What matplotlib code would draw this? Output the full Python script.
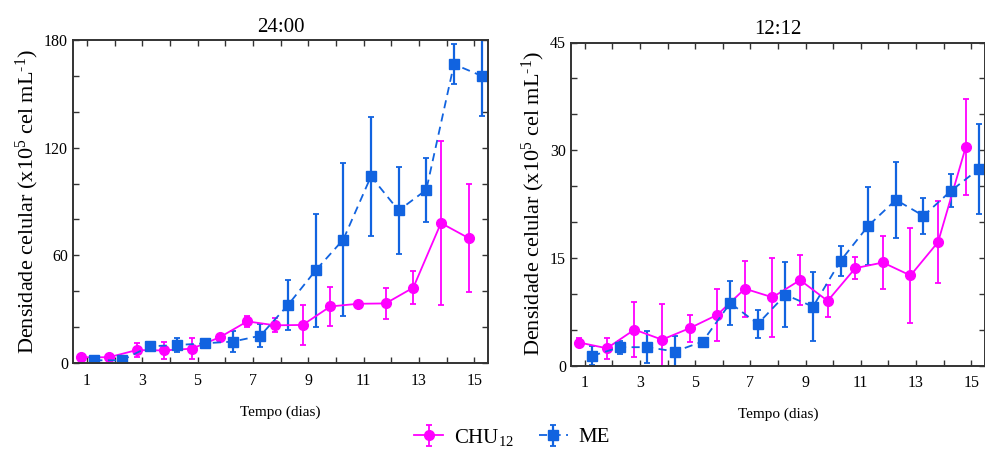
import numpy as np
import matplotlib
matplotlib.use("Agg")
import matplotlib.pyplot as plt
from matplotlib.ticker import MultipleLocator

plt.rcParams['font.family'] = ['Liberation Serif', 'DejaVu Serif']
plt.rcParams['mathtext.default'] = 'regular'

# Dias de cultivo
dias = np.arange(1, 16)

# 24:00
chu_24 = [3.2, 3.2, 7.2, 7.0, 8.0, 14.3, 23.2, 21.0, 21.2, 31.5, 33.0, 33.2, 42.0, 78.0, 69.6]
chu_24_err = [0.8, 0.8, 4.0, 4.5, 6.0, 0.8, 3.0, 4.0, 11.0, 10.7, 0.8, 8.6, 9.0, 45.7, 30.0]
me_24 = [1.5, 1.5, 9.3, 10.0, 11.0, 11.9, 15.2, 32.3, 51.6, 68.8, 104.0, 85.0, 96.5, 166.5, 160.0]
me_24_err = [0.6, 0.6, 2.0, 4.0, 2.0, 6.0, 6.5, 14.0, 31.7, 42.7, 33.0, 24.3, 18.0, 11.0, 22.3]

# 12:12
chu_12 = [3.2, 2.4, 5.0, 3.6, 5.2, 7.06, 10.7, 9.5, 11.9, 9.0, 13.56, 14.35, 12.54, 17.2, 30.4]
chu_12_err = [0.6, 1.5, 3.8, 4.9, 1.9, 3.65, 3.9, 5.5, 3.5, 2.2, 1.5, 3.67, 6.6, 5.7, 6.7]
me_12 = [1.35, 2.55, 2.55, 1.95, 3.34, 8.7, 5.8, 9.85, 8.2, 14.6, 19.46, 23.08, 20.85, 24.34, 27.36]
me_12_err = [1.3, 0.9, 2.2, 2.2, 0.0, 3.07, 2.0, 4.5, 4.83, 2.1, 5.4, 5.3, 2.5, 2.27, 6.3]

ROSA = '#ff00ff'
AZUL = '#1163e0'

fig = plt.figure(figsize=(9.85, 4.49), dpi=100)
ax1 = fig.add_axes([73/985, 86/449, 415/985, 323/449])
ax2 = fig.add_axes([571/985, 83.5/449, 414/985, 323/449])


def painel(ax, titulo, chu, chu_err, me, me_err, ymax, major, minor):
    h1 = ax.errorbar(dias - 0.2, chu, yerr=chu_err, color=ROSA, marker='o', markersize=7,
                     linestyle='-', linewidth=1.3, elinewidth=1.3, capsize=2.5, capthick=1.3)
    h2 = ax.errorbar(dias + 0.27, me, yerr=me_err, color=AZUL, marker='s', markersize=6.5,
                     linestyle=(0, (4.5, 3)), linewidth=1.3, elinewidth=1.6, capsize=2.5, capthick=1.3)
    ax.set_xlim(0.5, 15.5)
    ax.set_ylim(0, ymax)
    ax.set_xticks(dias)
    ax.set_xticklabels([str(d) if d % 2 == 1 else '' for d in dias])
    ax.yaxis.set_major_locator(MultipleLocator(major))
    ax.yaxis.set_minor_locator(MultipleLocator(minor))
    ax.tick_params(which='both', direction='in', top=True, right=True, labelsize=11.5,
                   length=4, width=1, color='#333333')
    ax.tick_params(axis='x', pad=7)
    for s in ax.spines.values():
        s.set_linewidth(1.4)
        s.set_color('#333333')
    ax.set_title(titulo, fontsize=15, pad=6)
    ax.set_xlabel('Tempo (dias)', fontsize=11, labelpad=12)
    ax.set_ylabel('Densidade celular (x10$^5$ cel mL$^{\u2010 1}$)', fontsize=16, labelpad=2)
    return h1, h2


h1, h2 = painel(ax1, '24:00', chu_24, chu_24_err, me_24, me_24_err, 180, 60, 20)
painel(ax2, '12:12', chu_12, chu_12_err, me_12, me_12_err, 45, 15, 5)

fig.legend([h1, h2], ['CHU$_{12}$', 'ME'], loc='center', bbox_to_anchor=(512/985, 1 - 437/449),
           ncol=2, frameon=False, fontsize=15, handlelength=1.4, handletextpad=0.5, columnspacing=1.2)

fig.savefig('out.png', dpi=100)
